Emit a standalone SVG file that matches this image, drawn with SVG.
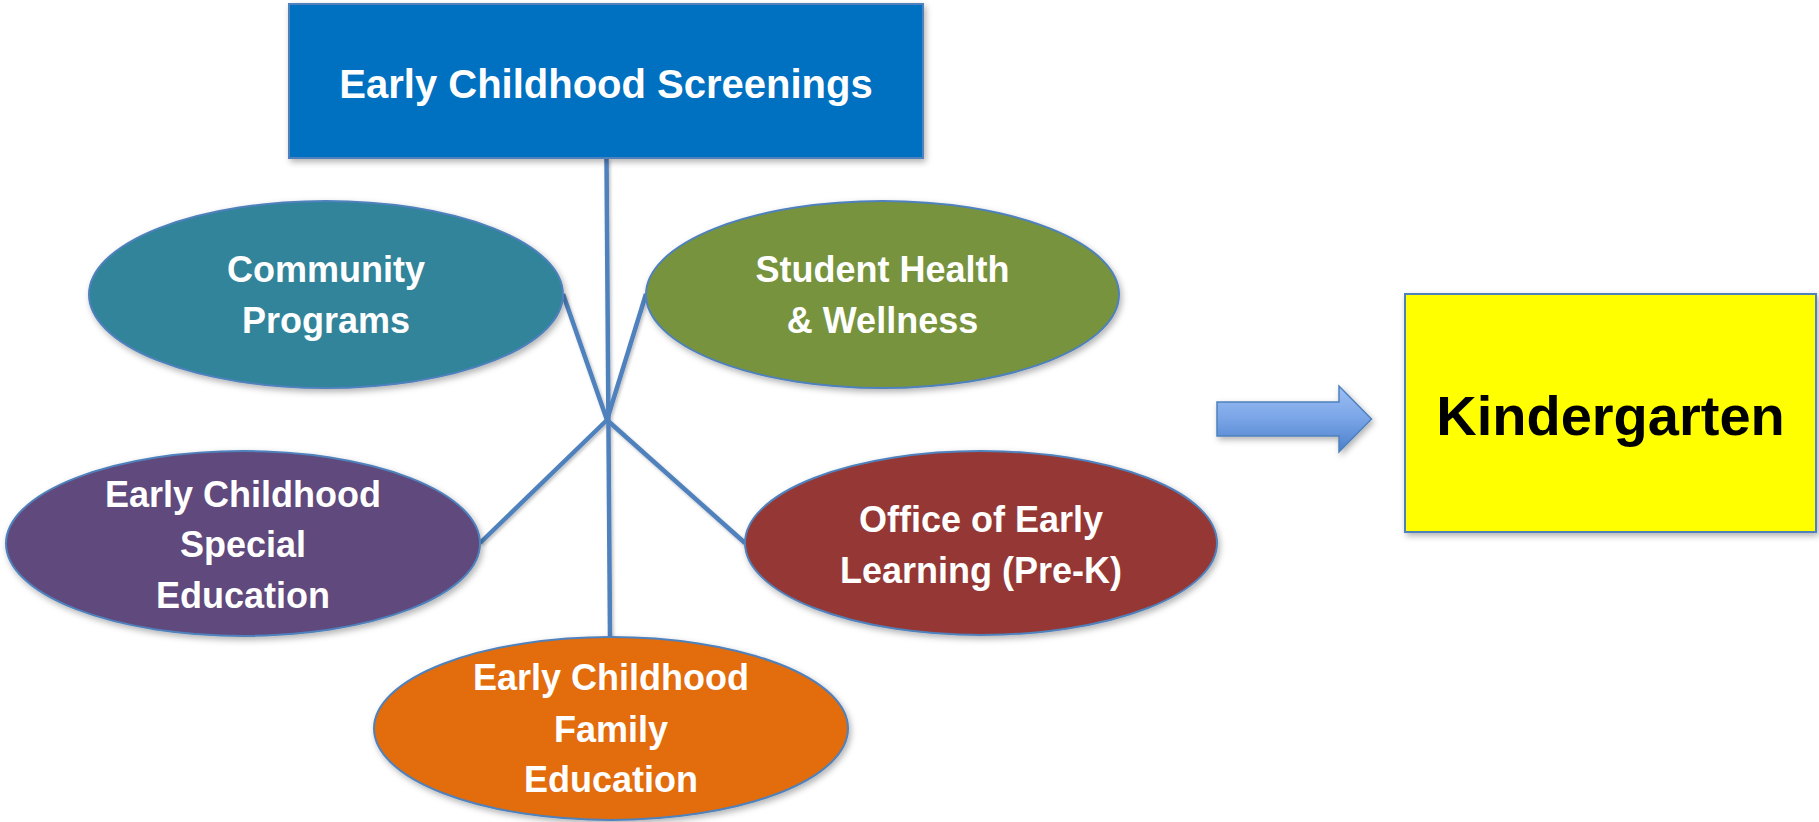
<svg xmlns="http://www.w3.org/2000/svg" width="1819" height="822" viewBox="0 0 1819 822">
<style>
  .node { stroke: #4F81BD; stroke-width: 2; filter: url(#shadow); }
  .lbl { font-family: "Liberation Sans", Arial, sans-serif; font-weight: bold; fill: #FFFFFF; text-anchor: middle; font-size: 36px; }
  .conn { stroke: #4F81BD; stroke-width: 4.5; fill: none; stroke-linecap: butt; }
</style>
<defs>
  <filter id="shadow" x="-10%" y="-10%" width="125%" height="130%">
    <feDropShadow dx="2" dy="3" stdDeviation="3" flood-color="#000000" flood-opacity="0.3"/>
  </filter>
  <filter id="lshadow" x="-10%" y="-10%" width="125%" height="125%">
    <feDropShadow dx="1.5" dy="2" stdDeviation="1.5" flood-color="#000000" flood-opacity="0.25"/>
  </filter>
  <linearGradient id="arrowGrad" x1="0" y1="0" x2="0" y2="1">
    <stop offset="0" stop-color="#9DC0F5"/>
    <stop offset="0.5" stop-color="#79A4E6"/>
    <stop offset="1" stop-color="#4B7FCB"/>
  </linearGradient>
</defs>
<rect width="1819" height="822" fill="#FFFFFF"/>

<g id="connectors" filter="url(#lshadow)">
  <line class="conn" x1="606.5" y1="158" x2="610" y2="637"/>
  <line class="conn" x1="607" y1="420" x2="563" y2="294"/>
  <line class="conn" x1="607" y1="420" x2="646" y2="294"/>
  <line class="conn" x1="607" y1="420" x2="480" y2="543"/>
  <line class="conn" x1="607" y1="420" x2="745" y2="543"/>
</g>

<g id="screenings">
  <rect class="node" x="289" y="4" width="634" height="154" fill="#0070C0"/>
  <text class="lbl" x="606" y="98" font-size="40" style="font-size:40px">Early Childhood Screenings</text>
</g>

<g id="community">
  <ellipse class="node" cx="326" cy="294.5" rx="237" ry="93.5" fill="#31849B"/>
  <text class="lbl" x="326" y="282">Community</text>
  <text class="lbl" x="326" y="333">Programs</text>
</g>

<g id="health">
  <ellipse class="node" cx="882.5" cy="294.5" rx="236.5" ry="93.5" fill="#77933C"/>
  <text class="lbl" x="882.5" y="282">Student Health</text>
  <text class="lbl" x="882.5" y="333">&amp; Wellness</text>
</g>

<g id="special-ed">
  <ellipse class="node" cx="243" cy="543.5" rx="237" ry="92.5" fill="#604A7B"/>
  <text class="lbl" x="243" y="507">Early Childhood</text>
  <text class="lbl" x="243" y="557">Special</text>
  <text class="lbl" x="243" y="608">Education</text>
</g>

<g id="early-learning">
  <ellipse class="node" cx="981" cy="543" rx="236" ry="92" fill="#953735"/>
  <text class="lbl" x="981" y="532">Office of Early</text>
  <text class="lbl" x="981" y="583">Learning (Pre-K)</text>
</g>

<g id="family-ed">
  <ellipse class="node" cx="611" cy="728.5" rx="237" ry="91.5" fill="#E36C09"/>
  <text class="lbl" x="611" y="690">Early Childhood</text>
  <text class="lbl" x="611" y="742">Family</text>
  <text class="lbl" x="611" y="792">Education</text>
</g>

<g id="arrow">
  <polygon points="1217,402 1339,402 1339,386 1371.5,419 1339,452 1339,436 1217,436" fill="url(#arrowGrad)" stroke="#4F81BD" stroke-width="1.5" filter="url(#shadow)"/>
</g>

<g id="kindergarten">
  <rect class="node" x="1405" y="294" width="411" height="238" fill="#FFFF00"/>
  <text x="1610.5" y="435" font-family="Liberation Sans, Arial, sans-serif" font-weight="bold" font-size="56" fill="#000000" text-anchor="middle">Kindergarten</text>
</g>
</svg>
